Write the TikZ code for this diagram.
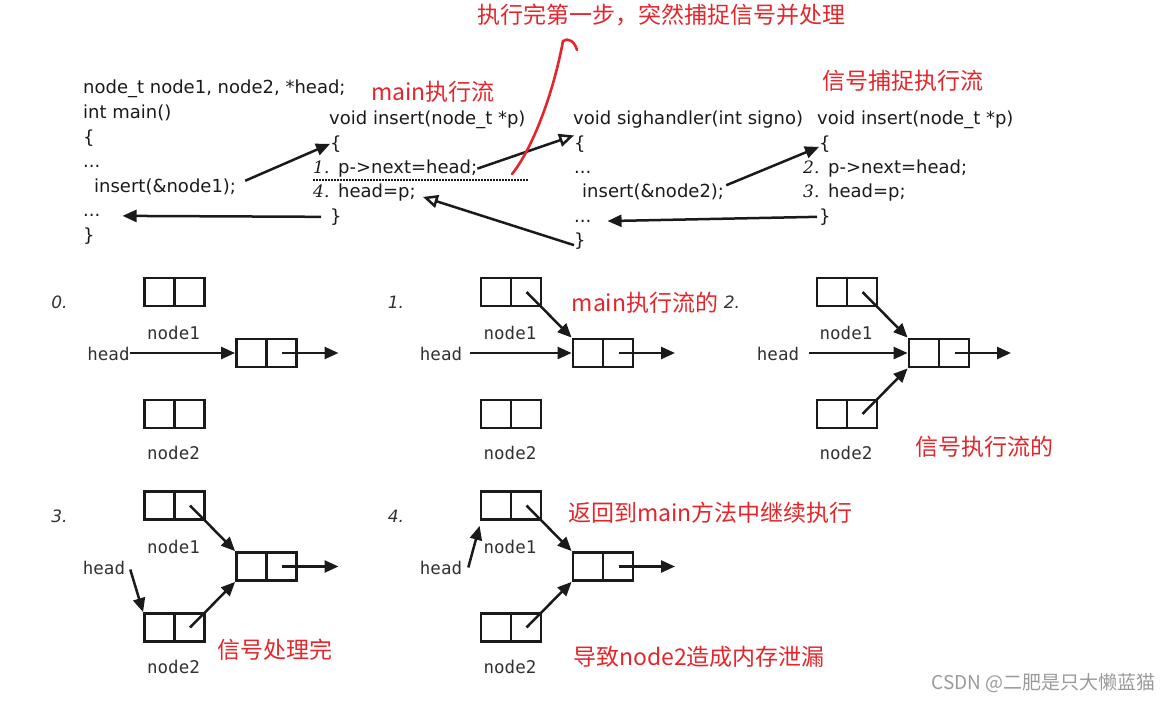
\documentclass[tikz,border=0pt]{standalone}
\usepackage{fontspec}
\newfontfamily\codefont{DejaVu Sans}
\newfontfamily\labelfont{DejaVu Sans Mono}
\newfontfamily\numfont{DejaVu Serif}
\newfontfamily\cjk{Noto Sans CJK SC}
\usepackage{xcolor}
\definecolor{ink}{HTML}{1A1A1A}
\definecolor{note}{HTML}{E3262B}
\definecolor{mark}{HTML}{9A9A9A}
\usetikzlibrary{arrows.meta}
\tikzset{
  src/.style={font=\codefont\fontsize{18}{20}\selectfont, text=ink, anchor=base west, inner sep=0pt},
  cell/.style={draw=ink, line width=2.8pt, minimum width=60pt, minimum height=28pt, inner sep=0pt},
  div/.style={draw=ink, line width=2.8pt},
  lbl/.style={font=\labelfont\fontsize{17.5}{20}\selectfont, text=ink!90, inner sep=0pt},
  num/.style={font=\codefont\itshape\fontsize{17}{20}\selectfont, text=ink!90, inner sep=0pt},
  remark/.style={font=\cjk\fontsize{23}{26}\selectfont, text=note, inner sep=0pt},
  link/.style={-{Triangle[length=14pt,width=12pt]}, line width=2.5pt, draw=ink},
  jump/.style={-{Triangle[open,length=15pt,width=13pt,line width=2.5pt]}, line width=2.5pt, draw=ink},
  sep/.style={line width=2.5pt, dash pattern=on 1.5pt off 1.5pt, draw=ink},
}
\newcommand\codeno[1]{\makebox[25pt][l]{\numfont\itshape\fontsize{17}{20}\selectfont #1}}

\begin{document}
\begin{tikzpicture}[x=1pt, y=-1pt]
  \useasboundingbox (0,0) rectangle (1175,703);
  % main() column
  \node[src] (m1) at (83,94) {node\_t node1, node2, *head;};
  \node[src] (m2) at (83,118.6) {int main()};
  \node[src] (m3) at (83,143.2) {\{};
  \node[src] (m4) at (83,167.8) {...};
  \node[src] (m5) at (94,192.4) {insert(\&node1);};
  \node[src] (m6) at (83,217) {...};
  \node[src] (m7) at (83,241.6) {\}};
  % insert() as run by main
  \node[src] (f1) at (329,125) {void insert(node\_t *p)};
  \node[src] (f2) at (330,149.3) {\{};
  \node[src] (f3) at (313,173.6) {\codeno{1.}p->next=head;};
  \node[src] (f4) at (313,197.9) {\codeno{4.}head=p;};
  \node[src] (f5) at (330,222.2) {\}};
  % signal handler
  \node[src] (s1) at (573,125) {void sighandler(int signo)};
  \node[src] (s2) at (574,149.3) {\{};
  \node[src] (s3) at (574,173.6) {...};
  \node[src] (s4) at (582,197.9) {insert(\&node2);};
  \node[src] (s5) at (574,222.2) {...};
  \node[src] (s6) at (574,246.5) {\}};
  % insert() as run by the handler
  \node[src] (g1) at (817,125) {void insert(node\_t *p)};
  \node[src] (g2) at (819,149.3) {\{};
  \node[src] (g3) at (803,173.6) {\codeno{2.}p->next=head;};
  \node[src] (g4) at (803,197.9) {\codeno{3.}head=p;};
  \node[src] (g5) at (819,222.2) {\}};
  % red notes on the code
  \node[remark] (t1) at (433,92) {main执行流};
  \node[remark] (t2) at (903,81) {信号捕捉执行流};
  \node[remark] (t3) at (661.5,15) {执行完第一步，突然捕捉信号并处理};
  % control flow
  \draw[link] ([xshift=9pt,yshift=6pt]m5.east) -- (f2.west);
  \draw[link] ([xshift=-9pt]f5.west) -- ([xshift=22pt]m6.east);
  \draw[jump] (f3.east) -- (s2.north west);
  \draw[jump] ([yshift=-4pt]s6.west) -- ([xshift=7pt,yshift=-4pt]f4.east);
  \draw[link] ([xshift=2pt,yshift=7pt]s4.east) -- ([yshift=-3pt]g2.west);
  \draw[link] ([xshift=-2pt]g5.west) -- ([xshift=16pt]s5.east);
  \draw[sep] (313,180) -- (528,180);
  \coordinate (cut) at (512,174);
  \coordinate (peak) at (563,41);
  \coordinate (hook) at (577,50);
  \draw[note, line width=2.6pt, line cap=round, line join=round]
    (cut) .. controls (530,152) and (552,100) .. (peak) .. controls (568,37) and (575,42) .. (hook);
  % five snapshots of the list
  \foreach \p/\x/\y/\h in {0/174.5/292/-66, 1/511/292/-70, 2/847/292/-69,
                           3/174.5/505.5/-70.5, 4/511/505.5/-70} {
    \node[cell] (na\p) at (\x,\y) {};
    \node[cell] (lst\p) at (\x+92,\y+61) {};
    \node[cell] (nb\p) at (\x,\y+122) {};
    \draw[div] (na\p.north) -- (na\p.south);
    \draw[div] (lst\p.north) -- (lst\p.south);
    \draw[div] (nb\p.north) -- (nb\p.south);
    \coordinate (nar\p) at ([xshift=15.5pt]na\p.center);
    \coordinate (lstr\p) at ([xshift=15.5pt]lst\p.center);
    \coordinate (nbr\p) at ([xshift=15.5pt]nb\p.center);
    \coordinate (tail\p) at ([xshift=72pt]lst\p.center);
    \node[lbl] (la\p) at (\x-1,\y+41) {node1};
    \node[lbl] (lb\p) at (\x-1,\y+161) {node2};
    \node[lbl] (hd\p) at (\x+\h,\y+62) {head};
    \node[num] (no\p) at (\x-115,\y+10.5) {\p.};
    \draw[link] (lstr\p) -- (tail\p);
  }
  \draw[link] (hd0.east |- lst0) -- (lst0.west);
  \draw[link] ([xshift=8pt]hd1.east |- lst1) -- (lst1.west);
  \draw[link] (nar1) -- (lst1.north west);
  \draw[link] ([xshift=10pt]hd2.east |- lst2) -- (lst2.west);
  \draw[link] (nar2) -- (lst2.north west);
  \draw[link] (nbr2) -- (lst2.south west);
  \draw[link] ([xshift=5pt,yshift=-2pt]hd3.east) -- (nb3.north west);
  \draw[link] (nar3) -- (lst3.north west);
  \draw[link] (nbr3) -- (lst3.south west);
  \draw[link] ([xshift=6pt]hd4.east) -- ([yshift=-5pt]na4.south west);
  \draw[link] (nar4) -- (lst4.north west);
  \draw[link] (nbr4) -- (lst4.south west);
  % red notes on the snapshots
  \node[remark] (r1) at (645,303) {main执行流的};
  \node[remark] (r2) at (984,447) {信号执行流的};
  \node[remark] (r3) at (275,650) {信号处理完};
  \node[remark] (r4) at (710.5,513) {返回到main方法中继续执行};
  \node[remark] (r5) at (699,657) {导致node2造成内存泄漏};
  \node[font=\cjk\fontsize{19}{20}\selectfont, text=mark, inner sep=0pt] (wm) at (1043.5,683) {CSDN @二肥是只大懒蓝猫};
\end{tikzpicture}
\end{document}
